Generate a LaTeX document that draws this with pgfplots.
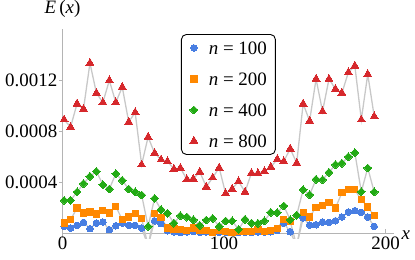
\documentclass[border=0pt]{standalone}
\usepackage{pgfplots}
\usepackage{pgfplotstable}
\pgfplotsset{compat=1.18}
\usepackage{fontspec}
\setmainfont{Liberation Serif}
\definecolor{cBlue}{RGB}{72,126,226}
\definecolor{cOrange}{RGB}{255,136,0}
\definecolor{cGreen}{RGB}{34,170,20}
\definecolor{cRed}{RGB}{214,40,44}
\definecolor{cLine}{RGB}{200,200,200}
\definecolor{cAxis}{RGB}{180,180,180}

\pgfplotstableread{
x   a        b        c        d
1   0.000052 0.000078 0.000256 0.000889
5   0.000039 0.000104 0.000256 0.000831
9   0.000060 0.000196 0.000322 0.001014
13  0.000083 0.000157 0.000387 0.000973
17  0.000034 0.000165 0.000444 0.001333
21  0.000078 0.000149 0.000483 0.001098
25  0.000086 0.000177 0.000379 0.001024
29  0.000026 0.000157 0.000345 0.001197
33  0.000057 0.000209 0.000465 0.001024
37  0.000078 0.000104 0.000413 0.001145
41  0.000060 0.000125 0.000345 0.000871
45  0.000060 0.000151 0.000322 0.000946
49  0.000039 0.000112 0.000298 0.000536
53  -0.000100 -0.000100 0.000052 0.000753
57  0.000095 0.000154 0.000271 0.000627
61  0.000073 0.000122 0.000183 0.000575
65  0.000018 0.000039 0.000154 0.000562
69  0.000010 0.000031 0.000078 0.000502
73  0.000005 0.000026 0.000136 0.000510
77  0.000008 0.000020 0.000125 0.000420
81  0.000012 0.000039 0.000104 0.000425
85  0.000005 0.000020 0.000060 0.000480
89  0.000008 0.000020 0.000102 0.000363
93  0.000003 0.000005 0.000114 0.000434
97  0.000006 0.000020 0.000052 0.000512
101 0.000005 0.000013 0.000094 0.000310
105 0.000003 0.000005 0.000095 0.000345
109 0.000004 0.000013 0.000028 0.000405
113 0.000006 0.000013 0.000107 0.000322
117 0.000004 0.000013 0.000078 0.000470
121 0.000008 0.000030 0.000076 0.000468
125 0.000006 0.000013 0.000095 0.000483
129 0.000010 0.000018 0.000162 0.000518
133 0.000020 0.000036 0.000160 0.000578
137 0.000078 0.000107 0.000212 0.000562
141 0.000010 0.000090 0.000104 0.000661
145 -0.000100 -0.000100 0.000140 0.000549
149 0.000118 0.000163 0.000340 0.001014
153 0.000063 0.000125 0.000300 0.000879
157 0.000065 0.000203 0.000421 0.001208
161 0.000086 0.000215 0.000418 0.000954
165 0.000083 0.000238 0.000475 0.001208
169 0.000096 0.000196 0.000536 0.001129
173 0.000125 0.000316 0.000547 0.001098
177 0.000165 0.000340 0.000598 0.001260
181 0.000175 0.000340 0.000630 0.001312
185 0.000162 0.000261 0.000324 0.000889
189 0.000125 0.000204 0.000510 0.001245
193 0.000052 0.000136 0.000322 0.000915
}\datatable

\begin{document}
\begin{tikzpicture}
\begin{axis}[
  scale only axis,
  width=331.9bp, height=209.1bp,
  xmin=0, xmax=205.5,
  ymin=-0.00004, ymax=0.0016,
  axis x line=middle,
  axis y line=left,
  hide obscured x ticks=false,
  hide obscured y ticks=false,
  scaled y ticks=false,
  scaled x ticks=false,
  axis line style={draw=cAxis, line width=0.8bp, -},
  xtick={0,100,200}, xticklabels={0,100,200},
  ytick={0.0004,0.0008,0.0012}, yticklabels={0.0004,0.0008,0.0012},
  xtick align=inside, ytick align=outside,
  major tick length=3.5bp,
  tick style={draw=cAxis, line width=0.8bp},
  ticklabel style={font=\fontsize{19}{22}\selectfont},
  yticklabel style={inner xsep=1.5bp},
  xlabel={\textit{x}},
  ylabel={\textit{E}\,(\textit{x})},
  every axis x label/.style={at={(axis cs:205.5,0)}, anchor=west, inner sep=0pt, xshift=7bp, yshift=-2bp, font=\fontsize{19}{22}\selectfont},
  every axis y label/.style={at={(axis description cs:0,1)}, anchor=south, inner sep=0pt, yshift=11bp, font=\fontsize{19}{22}\selectfont},
  legend style={
    at={(axis description cs:0.357,0.976)}, anchor=north west,
    draw=black, line width=0.9bp, rounded corners=5bp, fill=white,
    font=\fontsize{19}{22}\selectfont,
    inner xsep=8.5bp, inner ysep=7bp,
    row sep=18bp,
    nodes={inner sep=0pt, text height=13bp, text depth=0pt},
    /tikz/every odd column/.append style={column sep=11bp},
  },
  legend cell align=left,
]
\addplot[cLine, line width=1.3bp, no marks, forget plot] table[x=x,y=a]{\datatable};
\addplot[cLine, line width=1.3bp, no marks, forget plot] table[x=x,y=b]{\datatable};
\addplot[cLine, line width=1.3bp, no marks, forget plot] table[x=x,y=c]{\datatable};
\addplot[cLine, line width=1.3bp, no marks, forget plot] table[x=x,y=d]{\datatable};
\addplot[only marks, color=cBlue, mark=*, mark size=3.3bp, mark options={fill=cBlue, draw=cBlue, line width=0pt}] table[x=x,y=a]{\datatable};
\addlegendentry{\textit{n} = 100}
\addplot[only marks, color=cOrange, mark=square*, mark size=3.1bp, mark options={fill=cOrange, draw=cOrange, line width=0pt}] table[x=x,y=b]{\datatable};
\addlegendentry{\textit{n} = 200}
\addplot[only marks, color=cGreen, mark=square*, mark size=2.8bp, mark options={fill=cGreen, draw=cGreen, line width=0pt, rotate=45}] table[x=x,y=c]{\datatable};
\addlegendentry{\textit{n} = 400}
\addplot[only marks, color=cRed, mark=triangle*, mark size=4.6bp, mark options={fill=cRed, draw=cRed, line width=0pt}] table[x=x,y=d]{\datatable};
\addlegendentry{\textit{n} = 800}
\coordinate (ll) at (rel axis cs:0,0);
\coordinate (ur) at (rel axis cs:1,1);
\end{axis}
\pgfresetboundingbox
\path[use as bounding box] ([shift={(-62.5bp,-21.9bp)}]ll) rectangle ([shift={(20.6bp,29bp)}]ur);
\end{tikzpicture}
\end{document}
